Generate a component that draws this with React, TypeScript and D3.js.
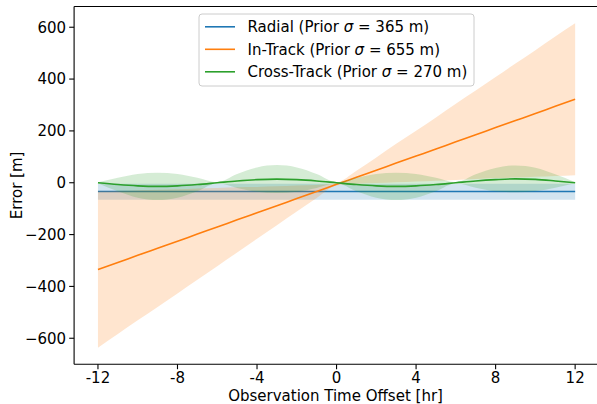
import React from "react";
import * as d3 from "d3";

const hours = [-12, -11, -10, -9, -8, -7, -6, -5, -4, -3, -2, -1, 0, 1, 2, 3, 4, 5, 6, 7, 8, 9, 10, 11, 12];

const radialMean = [-34, -34, -34, -34, -34, -34, -34, -34, -34, -34, -34, -34, -34, -34, -34, -34, -34, -34, -34, -34, -34, -34, -34, -34, -34];
const radialUpper = [-4, -4, -4, -4, -4, -4, -4, -4, -4, -4, -4, -4, -4, -4, -4, -4, -4, -4, -4, -4, -4, -4, -4, -4, -4];
const radialLower = [-66, -66, -66, -66, -66, -66, -66, -66, -66, -66, -66, -66, -66, -66, -66, -66, -66, -66, -66, -66, -66, -66, -66, -66, -66];

const inTrackMean = [-335, -308, -280, -253, -226, -198, -171, -143, -116, -89, -61, -34, -6, 21, 48, 76, 103, 130, 158, 185, 213, 240, 267, 295, 322];
const inTrackUpper = [-33, -32, -29, -27, -25, -22, -20, -17, -16, -14, -11, -9, -1, 46, 97, 150, 201, 252, 305, 356, 408, 460, 511, 564, 615];
const inTrackLower = [-637, -584, -531, -479, -427, -374, -322, -269, -216, -164, -111, -59, -11, -4, -1, 2, 5, 8, 11, 14, 18, 20, 23, 26, 29];

const crossMean = [0, -7, -12, -14, -12, -7, 0, 7, 12, 14, 12, 7, 0, -7, -12, -14, -12, -7, 0, 7, 12, 15, 13, 7, 0];
const crossUpper = [2, 19, 34, 39, 34, 19, 2, 34, 59, 68, 59, 34, 2, 19, 34, 39, 34, 19, 2, 33, 57, 67, 58, 33, 2];
const crossLower = [-2, -33, -58, -67, -58, -33, -2, -20, -35, -40, -35, -20, -2, -33, -58, -67, -58, -33, -2, -19, -33, -37, -32, -19, -2];

const xTicks = [-12, -8, -4, 0, 4, 8, 12];
const yTicks = [600, 400, 200, 0, -200, -400, -600];

const seriesNames = ["Radial", "In-Track", "Cross-Track"];
const priorSigmas = [365, 655, 270];
const colors = ["#1f77b4", "#ff7f0e", "#2ca02c"];

const W = 597;
const H = 404;
const left = 74.1;
const right = 599;
const top = 6.5;
const bottom = 364.3;

export default function App() {
  const x = d3.scaleLinear().domain([-13.2, 13.2]).range([left, right]);
  const y = d3.scaleLinear().domain([-700.5, 680]).range([bottom, top]);

  const series = [
    { mean: radialMean, upper: radialUpper, lower: radialLower },
    { mean: inTrackMean, upper: inTrackUpper, lower: inTrackLower },
    { mean: crossMean, upper: crossUpper, lower: crossLower },
  ];

  const line = d3
    .line<number>()
    .x((_, i) => x(hours[i]))
    .y((d) => y(d))
    .curve(d3.curveMonotoneX);

  const makeArea = (upper: number[], lower: number[]) =>
    d3
      .area<number>()
      .x((_, i) => x(hours[i]))
      .y0((_, i) => y(lower[i]))
      .y1((_, i) => y(upper[i]))
      .curve(d3.curveMonotoneX)(hours) as string;

  const font = "DejaVu Sans, sans-serif";
  const fs = 15;

  return (
    <svg
      width={W}
      height={H}
      style={{ position: "absolute", left: 0, top: 0, background: "#fff" }}
      fontFamily={font}
    >
      <defs>
        <clipPath id="plotclip">
          <rect x={left} y={top} width={right - left} height={bottom - top} />
        </clipPath>
      </defs>
      <g clipPath="url(#plotclip)">
        {series.map((s, k) => (
          <g key={k}>
            <path d={line(s.mean) as string} fill="none" stroke={colors[k]} strokeWidth={1.6} />
            <path d={makeArea(s.upper, s.lower)} fill={colors[k]} fillOpacity={0.2} stroke="none" />
          </g>
        ))}
      </g>

      {/* spines */}
      <line x1={left} y1={top} x2={left} y2={bottom} stroke="#000" strokeWidth={1.1} />
      <line x1={left} y1={bottom} x2={right} y2={bottom} stroke="#000" strokeWidth={1.1} />
      <line x1={left} y1={top} x2={right} y2={top} stroke="#000" strokeWidth={1.1} />

      {/* y ticks */}
      {yTicks.map((t) => (
        <g key={t}>
          <line x1={left - 4.9} x2={left} y1={y(t)} y2={y(t)} stroke="#000" strokeWidth={1.1} />
          <text x={left - 8} y={y(t)} dy="0.36em" textAnchor="end" fontSize={fs} fill="#000">
            {t < 0 ? "\u2212" + Math.abs(t) : String(t)}
          </text>
        </g>
      ))}

      {/* x ticks */}
      {xTicks.map((t) => (
        <g key={t}>
          <line x1={x(t)} x2={x(t)} y1={bottom} y2={bottom + 4.9} stroke="#000" strokeWidth={1.1} />
          <text x={x(t)} y={bottom + 19} textAnchor="middle" fontSize={fs} fill="#000">
            {String(t)}
          </text>
        </g>
      ))}

      <text x={(left + right) / 2 - 1} y={401} textAnchor="middle" fontSize={fs} fill="#000">
        Observation Time Offset [hr]
      </text>
      <text
        transform={`translate(22, ${(top + bottom) / 2}) rotate(-90)`}
        textAnchor="middle"
        fontSize={fs}
        fill="#000"
      >
        Error [m]
      </text>

      {/* legend */}
      <g>
        <rect x={199} y={14} width={275} height={72} rx={3} ry={3} fill="#fff" fillOpacity={0.8} stroke="#cccccc" strokeWidth={1} />
        {seriesNames.map((name, i) => {
          const cy = 26.8 + i * 22.5;
          return (
            <g key={name}>
              <line x1={205} x2={235} y1={cy} y2={cy} stroke={colors[i]} strokeWidth={1.6} />
              <text x={247.5} y={cy} dy="0.36em" fontSize={fs} fill="#000">
                {name} (Prior{" "}
                <tspan fontStyle="italic">σ</tspan>
                {" = " + priorSigmas[i] + " m)"}
              </text>
            </g>
          );
        })}
      </g>
    </svg>
  );
}
